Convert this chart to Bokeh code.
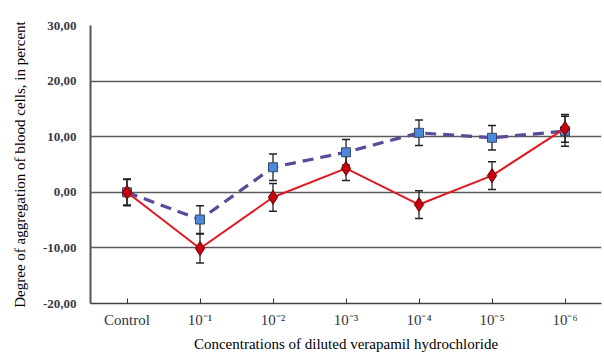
from bokeh.plotting import figure
from bokeh.models import Range1d, Whisker, ColumnDataSource, FixedTicker, TeeHead
from bokeh.embed import file_html
from bokeh.resources import INLINE

categories = ["Control", "10⁻¹", "10⁻²", "10⁻³", "10⁻⁴", "10⁻⁵", "10⁻⁶"]
red_values = [0.0, -10.1, -0.9, 4.3, -2.2, 3.0, 11.5]
red_errors = [2.4, 2.6, 2.5, 2.2, 2.5, 2.5, 2.5]
blue_values = [0.0, -4.9, 4.5, 7.2, 10.7, 9.8, 11.0]
blue_errors = [2.3, 2.5, 2.4, 2.3, 2.3, 2.2, 2.7]
y_ticks = [-20, -10, 0, 10, 20, 30]
y_tick_labels = ["-20,00", "-10,00", "0,00", "10,00", "20,00", "30,00"]

xs = list(range(len(categories)))

p = figure(width=602, height=354, output_backend="svg", toolbar_location=None,
           x_range=Range1d(-0.5, 6.5), y_range=Range1d(-20, 30),
           min_border_left=90, min_border_right=1, min_border_top=25, min_border_bottom=51)
p.outline_line_color = None
p.background_fill_color = "white"
p.border_fill_color = "white"

# grid
p.xgrid.visible = False
p.ygrid.ticker = FixedTicker(ticks=y_ticks)
p.ygrid.grid_line_color = "#5a5a5a"
p.ygrid.grid_line_width = 1.4

# y axis
p.yaxis.ticker = FixedTicker(ticks=y_ticks)
p.yaxis.major_label_overrides = {t: l for t, l in zip(y_ticks, y_tick_labels)}
p.yaxis.major_tick_out = 0
p.yaxis.major_tick_in = 0
p.yaxis.minor_tick_out = 0
p.yaxis.minor_tick_in = 0
p.yaxis.axis_line_color = "#555555"
p.yaxis.axis_line_width = 2
p.yaxis.major_label_standoff = 14
p.yaxis.major_label_text_font = "Liberation Serif"
p.yaxis.major_label_text_font_style = "bold"
p.yaxis.major_label_text_font_size = "13px"
p.yaxis.major_label_text_color = "#3a3a48"
p.yaxis.axis_label = "Degree of aggregation of blood cells, in percent"
p.yaxis.axis_label_text_font = "Liberation Serif"
p.yaxis.axis_label_text_font_style = "normal"
p.yaxis.axis_label_text_font_size = "15px"
p.yaxis.axis_label_text_color = "black"
p.yaxis.axis_label_standoff = 12

# x axis
p.xaxis.ticker = FixedTicker(ticks=xs)
p.xaxis.major_label_overrides = {i: c for i, c in zip(xs, categories)}
p.xaxis.major_tick_out = 0
p.xaxis.major_tick_in = 5
p.xaxis.minor_tick_out = 0
p.xaxis.minor_tick_in = 0
p.xaxis.major_tick_line_color = "#333333"
p.xaxis.axis_line_color = "#444444"
p.xaxis.axis_line_width = 1.5
p.xaxis.major_label_standoff = 8
p.xaxis.major_label_text_font = "Liberation Serif"
p.xaxis.major_label_text_font_size = "15px"
p.xaxis.major_label_text_color = "#333340"
p.xaxis.axis_label = "Concentrations of diluted verapamil hydrochloride"
p.xaxis.axis_label_text_font = "Liberation Serif"
p.xaxis.axis_label_text_font_style = "normal"
p.xaxis.axis_label_text_font_size = "15px"
p.xaxis.axis_label_text_color = "black"
p.xaxis.axis_label_standoff = 5

red_src = ColumnDataSource(dict(x=xs, y=red_values,
                                lo=[v - e for v, e in zip(red_values, red_errors)],
                                hi=[v + e for v, e in zip(red_values, red_errors)]))
blue_src = ColumnDataSource(dict(x=xs, y=blue_values,
                                 lo=[v - e for v, e in zip(blue_values, blue_errors)],
                                 hi=[v + e for v, e in zip(blue_values, blue_errors)]))

for src in (blue_src, red_src):
    w = Whisker(source=src, base="x", lower="lo", upper="hi", dimension="height",
                line_color="#222222", line_width=1.3,
                upper_head=TeeHead(size=8, line_color="#222222", line_width=1.5),
                lower_head=TeeHead(size=8, line_color="#222222", line_width=1.5))
    p.add_layout(w)

p.line("x", "y", source=blue_src, line_color="#5a4a98", line_width=3.2, line_dash="11 7")
p.scatter("x", "y", source=blue_src, marker="square", size=9,
          fill_color="#4a8ad8", line_color="#3a4a6a", line_width=1)

p.line("x", "y", source=red_src, line_color="#e01820", line_width=2)
p.scatter("x", "y", source=red_src, marker="diamond", size=14,
          fill_color="#c80010", line_color="#6a0000", line_width=1)

open("out.html", "w").write(file_html(p, INLINE))
